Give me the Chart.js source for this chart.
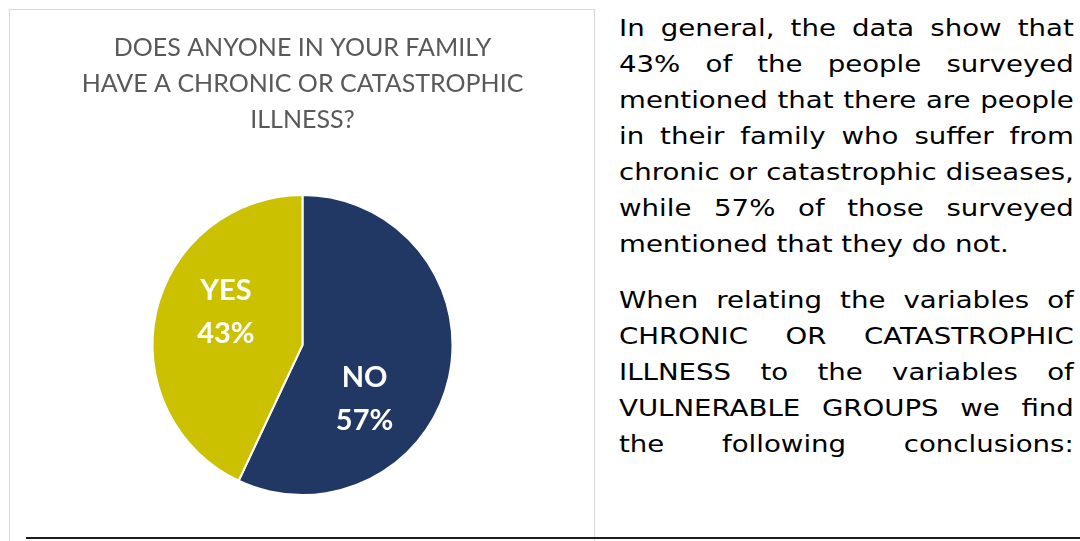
<!DOCTYPE html>
<html>
<head>
<meta charset="utf-8">
<script src="https://cdn.jsdelivr.net/npm/chart.js@4.4.1/dist/chart.umd.min.js"></script>
<style>
  html, body { margin: 0; padding: 0; background: #fff; }
  body { width: 1080px; height: 541px; position: relative; overflow: hidden; }
  #panel {
    position: absolute; left: 9px; top: 9px; width: 586px; height: 560px;
    border: 1px solid #d9d9d9; box-sizing: border-box;
  }
  #chartWrap { position: absolute; left: 10px; top: 10px; width: 585px; height: 531px; }
  #notes {
    position: absolute; left: 619px; top: 0; width: 455px; height: 541px;
    font-family: "DejaVu Sans", Verdana, sans-serif; font-size: 23px; color: #000;
  }
  .para { position: absolute; left: 0; width: 379px; transform: scaleX(1.2); transform-origin: 0 0; }
  .ln { height: 36px; line-height: 36px; white-space: nowrap; text-align: justify; text-align-last: justify; }
  .ln.last { text-align: left; text-align-last: left; }
  #rule { position: absolute; left: 26px; top: 537px; width: 1054px; height: 2px; background: #1c1c1c; }
</style>
</head>
<body>
<div id="panel"></div>
<div id="chartWrap"><canvas id="chart"></canvas></div>
<div id="notes"></div>
<div id="rule"></div>
<script>
// Survey answers: share of respondents (%)
const categories = ['NO', 'YES'];
const shares = [57, 43];
const sliceColors = ['#213864', '#CBC100'];
const titleLines = ['DOES ANYONE IN YOUR FAMILY', 'HAVE A CHRONIC OR CATASTROPHIC', 'ILLNESS?'];

// Commentary paragraphs, one entry per printed line
const paragraphOne = [
  'In general, the data show that',
  '43% of the people surveyed',
  'mentioned that there are people',
  'in their family who suffer from',
  'chronic or catastrophic diseases,',
  'while 57% of those surveyed',
  'mentioned that they do not.'
];
const paragraphTwo = [
  'When relating the variables of',
  'CHRONIC OR CATASTROPHIC',
  'ILLNESS to the variables of',
  'VULNERABLE GROUPS we find',
  'the following conclusions:'
];

function buildNotes() {
  const notes = document.getElementById('notes');
  const addPara = (lines, top, lastLeft) => {
    const p = document.createElement('div');
    p.className = 'para';
    p.style.top = top + 'px';
    lines.forEach((t, i) => {
      const d = document.createElement('div');
      d.className = 'ln' + (lastLeft && i === lines.length - 1 ? ' last' : '');
      d.textContent = t;
      p.appendChild(d);
    });
    notes.appendChild(p);
  };
  addPara(paragraphOne, 10, true);
  addPara(paragraphTwo, 282, false);
}
buildNotes();

// Writes the category and its percentage inside each slice
const sliceLabels = {
  id: 'sliceLabels',
  afterDatasetsDraw(chart, args, opts) {
    const ctx = chart.ctx;
    const meta = chart.getDatasetMeta(0);
    ctx.save();
    ctx.fillStyle = opts.color;
    ctx.font = opts.font;
    ctx.textAlign = 'center';
    ctx.textBaseline = 'middle';
    meta.data.forEach((arc, i) => {
      const a = opts.anchors[i];
      const rad = a.angle * Math.PI / 180;
      const x = arc.x + Math.cos(rad) * arc.outerRadius * a.r;
      const y = arc.y + Math.sin(rad) * arc.outerRadius * a.r;
      const lines = [chart.data.labels[i], chart.data.datasets[0].data[i] + '%'];
      lines.forEach((t, k) => {
        ctx.fillText(t, x, y + (k - (lines.length - 1) / 2) * opts.lineHeight);
      });
    });
    ctx.restore();
  }
};

new Chart(document.getElementById('chart'), {
  type: 'pie',
  data: {
    labels: categories,
    datasets: [{
      data: shares,
      backgroundColor: sliceColors,
      borderColor: '#ffffff',
      borderWidth: 2
    }]
  },
  options: {
    responsive: true,
    maintainAspectRatio: false,
    animation: false,
    layout: { padding: { top: 0, bottom: 45, left: 0, right: 0 } },
    plugins: {
      legend: { display: false },
      tooltip: { enabled: false },
      title: {
        display: true,
        text: titleLines,
        color: '#595959',
        font: { family: 'Lato', size: 25, weight: 'normal', lineHeight: 1.44 },
        padding: { top: 20, bottom: 56 }
      },
      sliceLabels: {
        color: '#ffffff',
        font: 'bold 29px Lato',
        lineHeight: 43,
        anchors: [{ angle: 41, r: 0.548 }, { angle: 203, r: 0.555 }]
      }
    }
  },
  plugins: [sliceLabels]
});
</script>
</body>
</html>
